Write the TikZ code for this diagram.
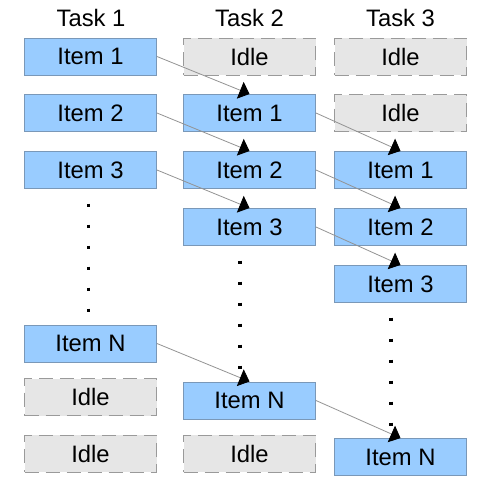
\documentclass[tikz,border=0pt]{standalone}
\usepackage{fontspec}
\setmainfont{Liberation Sans}
\usetikzlibrary{arrows.meta,positioning}
\definecolor{itemblue}{HTML}{99CCFF}
\definecolor{itemline}{HTML}{7A98B8}
\definecolor{idlefill}{HTML}{E6E6E6}
\definecolor{idleline}{HTML}{9A9A9A}
\tikzset{
    every node/.style={font=\fontsize{11.9pt}{13pt}\selectfont},
    itembox/.style={draw=itemline,fill=itemblue,line width=0.5pt,minimum width=66pt,minimum height=18.5pt,inner sep=0pt},
    idlebox/.style={draw=idleline,fill=idlefill,line width=0.5pt,dash pattern=on 7pt off 3.5pt,minimum width=66pt,minimum height=18.5pt,inner sep=0pt},
    handoff/.style={draw=gray!85,line width=0.4pt,-{Triangle[black,length=5pt,width=9pt]}},
    pause/.style={line width=1.6pt,dash pattern=on 1.6pt off 8.9pt}
}
\begin{document}
\begin{tikzpicture}[x=0.5pt,y=-0.5pt]
        \useasboundingbox (0,0) rectangle (491,484);

        % headers
        \node (t1) at (91,18) {Task 1};
        \node (t2) at (249.5,18) {Task 2};
        \node (t3) at (400.5,18) {Task 3};

        % task 1
        \node[itembox] (a1) at (90.5,56.5) {Item 1};
        \node[itembox] (a2) at (90.5,113) {Item 2};
        \node[itembox] (a3) at (90.5,170) {Item 3};
        \node[itembox] (aN) at (90.5,343.5) {Item N};
        \node[idlebox] (ai1) at (90.5,397) {Idle};
        \node[idlebox] (ai2) at (90.5,453.5) {Idle};

        % task 2
        \node[idlebox] (bi1) at (249.5,56.5) {Idle};
        \node[itembox] (b1) at (249.5,113) {Item 1};
        \node[itembox] (b2) at (249.5,170) {Item 2};
        \node[itembox] (b3) at (249.5,227) {Item 3};
        \node[itembox] (bN) at (249.5,400.5) {Item N};
        \node[idlebox] (bi2) at (249.5,453.5) {Idle};

        % task 3
        \node[idlebox] (ci1) at (400.5,56.5) {Idle};
        \node[idlebox] (ci2) at (400.5,113) {Idle};
        \node[itembox] (c1) at (400.5,170) {Item 1};
        \node[itembox] (c2) at (400.5,227) {Item 2};
        \node[itembox] (c3) at (400.5,284) {Item 3};
        \node[itembox] (cN) at (400.5,457) {Item N};

        % dots
        \draw[pause] (88.5,203.5) -- (88.5,311.5);
        \draw[pause] (240,260.5) -- (240,368.5);
        \draw[pause] (391,317.5) -- (391,425.5);

        % hand-offs
        \draw[handoff] (a1.east) -- (b1.north);
        \draw[handoff] (a2.east) -- (b2.north);
        \draw[handoff] (a3.east) -- (b3.north);
        \draw[handoff] (aN.east) -- (bN.north);
        \draw[handoff] (b1.east) -- (c1.north);
        \draw[handoff] (b2.east) -- (c2.north);
        \draw[handoff] (b3.east) -- (c3.north);
        \draw[handoff] (bN.east) -- (cN.north);
\end{tikzpicture}
\end{document}
